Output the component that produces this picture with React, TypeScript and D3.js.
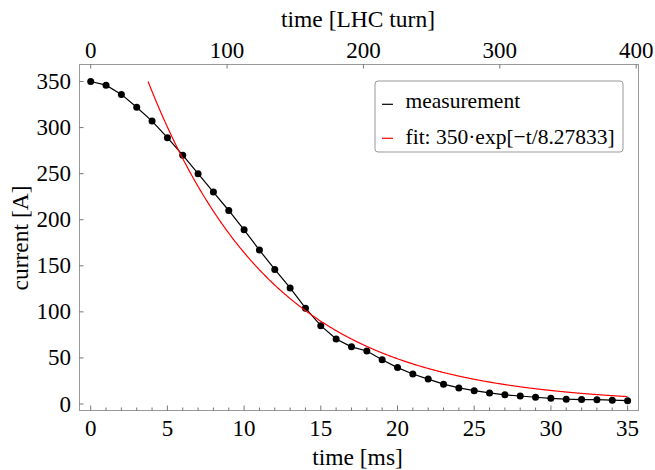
import React from "react";
import * as d3 from "d3";

const timeMs: number[] = Array.from({ length: 36 }, (_, i) => i);
const currentA: number[] = [
  350, 346, 336, 322, 307, 289, 270, 250, 230, 210,
  189, 167, 146, 126, 104, 85, 70.5, 62, 57.5, 48,
  39.5, 32.5, 27, 21.5, 17.5, 14.5, 12, 10, 8.7, 7.3,
  6.2, 5.2, 4.8, 4.7, 4.1, 3.6,
];
const xTicks: number[] = [0, 5, 10, 15, 20, 25, 30, 35];
const xMinorTicks: number[] = Array.from({ length: 36 }, (_, i) => i);
const yTicks: number[] = [0, 50, 100, 150, 200, 250, 300, 350];
const turnTicks: number[] = [0, 100, 200, 300, 400];
const fitAmplitude = 350;
const fitTau = 8.27833;
const fitStart = 3.74; // ms, where the fit curve begins
const msPerTurn = 0.0889;
const legendLabels: string[] = ["measurement", "fit: 350\u00b7exp[\u2212t/8.27833]"];
const legendColors: string[] = ["#000000", "#ff0000"];

const W = 655;
const H = 470;
const frame = { left: 79.5, right: 638.5, top: 64.5, bottom: 410.5 };
const FONT = "'Liberation Serif', 'Times New Roman', serif";

export default function App() {
  const x = d3.scaleLinear().domain([0, 35]).range([90.7, 627.6]);
  const y = d3.scaleLinear().domain([0, 350]).range([404, 81.5]);
  const xTurn = (t: number) => x(t * msPerTurn);

  const dataLine = d3
    .line<number>()
    .x((_, i) => x(timeMs[i]))
    .y((d) => y(d))(currentA) as string;

  const fitTimes = d3.range(fitStart, 35.0001, 0.05);
  const fitLine = d3
    .line<number>()
    .x((t) => x(t))
    .y((t) => y(fitAmplitude * Math.exp(-(t - fitStart) / fitTau)))(fitTimes) as string;

  const tickColor = "#555";
  const frameColor = "#999";
  const tickFont = 23;

  return (
    <svg
      width={W}
      height={H}
      style={{ position: "absolute", left: 0, top: 0, background: "#fff" }}
      fontFamily={FONT}
    >
      <rect x={0} y={0} width={W} height={H} fill="#fff" />
      {/* frame */}
      <rect
        x={frame.left}
        y={frame.top}
        width={frame.right - frame.left}
        height={frame.bottom - frame.top}
        fill="none"
        stroke={frameColor}
        strokeWidth={1}
      />
      {/* bottom ticks */}
      {xMinorTicks.map((t) => (
        <line
          key={"m" + t}
          x1={x(t)}
          x2={x(t)}
          y1={frame.bottom}
          y2={frame.bottom - (t % 5 === 0 ? 5 : 3)}
          stroke={tickColor}
          strokeWidth={0.8}
        />
      ))}
      {xTicks.map((t) => (
        <text key={"xl" + t} x={x(t)} y={435.5} textAnchor="middle" fontSize={tickFont} fill="#000">
          {t}
        </text>
      ))}
      {/* top ticks */}
      {turnTicks.map((t) => (
        <g key={"tt" + t}>
          <line
            x1={xTurn(t)}
            x2={xTurn(t)}
            y1={frame.top}
            y2={frame.top + 4}
            stroke={tickColor}
            strokeWidth={0.8}
          />
          <text x={xTurn(t)} y={58.3} textAnchor="middle" fontSize={tickFont} fill="#000">
            {t}
          </text>
        </g>
      ))}
      {/* left ticks */}
      {yTicks.map((v) => (
        <g key={"yt" + v}>
          <line
            x1={frame.left}
            x2={frame.left + 4}
            y1={y(v)}
            y2={y(v)}
            stroke={tickColor}
            strokeWidth={0.8}
          />
          <text x={71} y={y(v) + 7.5} textAnchor="end" fontSize={tickFont} fill="#000">
            {v}
          </text>
        </g>
      ))}
      {/* axis titles */}
      <text x={358} y={26.5} textAnchor="middle" fontSize={23.5} fill="#000">
        time [LHC turn]
      </text>
      <text x={357.5} y={465} textAnchor="middle" fontSize={23.5} fill="#000">
        time [ms]
      </text>
      <text
        transform={`translate(28,238) rotate(-90)`}
        textAnchor="middle"
        fontSize={23.5}
        fill="#000"
      >
        current [A]
      </text>
      {/* data */}
      <path d={dataLine} fill="none" stroke="#000" strokeWidth={1.2} />
      {currentA.map((v, i) => (
        <circle key={"p" + i} cx={x(timeMs[i])} cy={y(v)} r={3.5} fill="#000" />
      ))}
      <path d={fitLine} fill="none" stroke="#ff0000" strokeWidth={1.2} />
      {/* legend */}
      <rect x={375} y={81} width={248} height={71} rx={3} fill="#fff" stroke={frameColor} strokeWidth={1} />
      {legendLabels.map((lab, i) => (
        <g key={"lg" + i}>
          <line
            x1={382}
            x2={393}
            y1={104.3 + i * 34}
            y2={104.3 + i * 34}
            stroke={legendColors[i]}
            strokeWidth={1.2}
          />
          <text x={405.5} y={108.3 + i * 35.7} fontSize={21.5} fill="#000">
            {lab}
          </text>
        </g>
      ))}
    </svg>
  );
}
